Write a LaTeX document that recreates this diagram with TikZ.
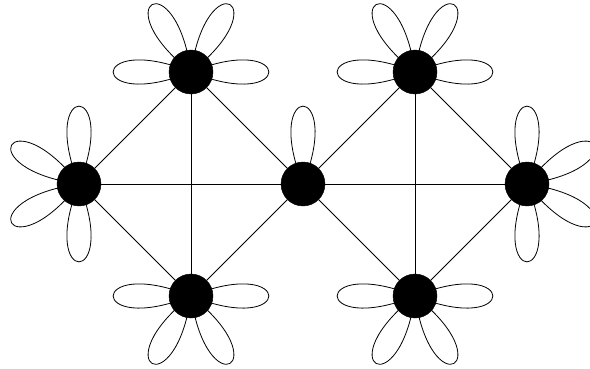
\documentclass[tikz,border=0pt]{standalone}
\usetikzlibrary{backgrounds}
\begin{document}
\begin{tikzpicture}[x=1pt,y=1pt,
  vtx/.style={circle,fill=black,draw=black,minimum size=44pt,inner sep=0pt},
  edgeline/.style={line width=0.8pt},
  petal/.style={line width=0.8pt,out=#1+22,in=#1-22,distance=112pt}]
\useasboundingbox (0,0) rectangle (590,368);
\clip (0,0) rectangle (590,368);
% vertices
\node[vtx] (t1) at (191,296) {};
\node[vtx] (t2) at (415,296) {};
\node[vtx] (l) at (79,184) {};
\node[vtx] (m) at (303,184) {};
\node[vtx] (r) at (527,184) {};
\node[vtx] (b1) at (191,72) {};
\node[vtx] (b2) at (415,72) {};
\begin{scope}[on background layer]
% petals (self-loops)
\foreach \n/\a in {t1/0,t1/180,t1/60,t1/120,
                   t2/0,t2/180,t2/60,t2/120,
                   l/90,l/270,l/150,l/210,
                   m/90,
                   r/90,r/270,r/30,r/330,
                   b1/0,b1/180,b1/240,b1/300,
                   b2/0,b2/180,b2/240,b2/300}
  \draw[petal=\a] (\n.center) to (\n.center);
% edges
\foreach \p/\q in {l/t1,t1/m,l/b1,b1/m,t1/b1,l/m,m/r,m/t2,t2/r,m/b2,b2/r,t2/b2}
  \draw[edgeline] (\p) -- (\q);
\end{scope}
\end{tikzpicture}
\end{document}
